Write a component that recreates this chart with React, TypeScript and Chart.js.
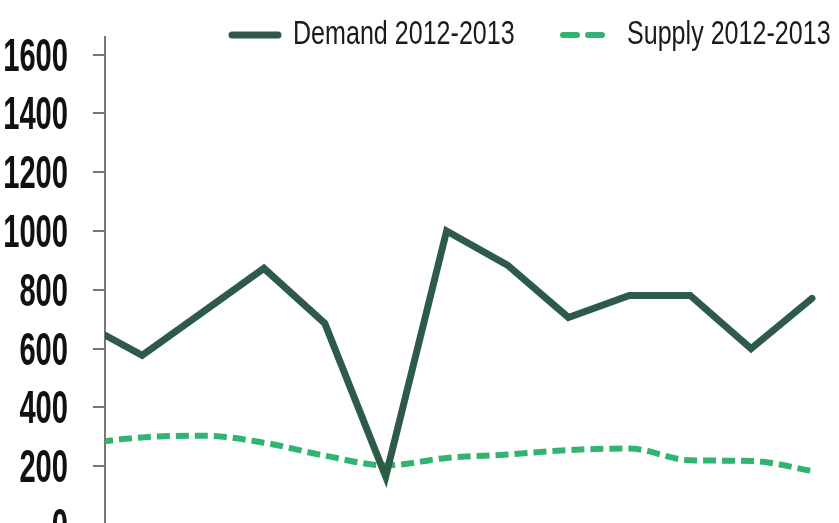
import React, { useEffect, useRef } from "react";
import { Chart, registerables } from "chart.js";

Chart.register(...registerables);

const periods = [0, 1, 2, 3, 4, 5, 6, 7, 8, 9, 10, 11, 12];
const demand = [690, 577, 725, 873, 686, 165, 1000, 884, 706, 781, 781, 600, 771];
const supply = [275, 298, 304, 280, 236, 203, 228, 240, 255, 260, 220, 218, 184];
const yTicks = [0, 200, 400, 600, 800, 1000, 1200, 1400, 1600];
const seriesNames = ["Demand 2012-2013", "Supply 2012-2013"];

const DEMAND_COLOR = "#2e5b48";
const SUPPLY_COLOR = "#30b46f";
const FONT = "'Liberation Sans', Arial, sans-serif";

// Condensed text: draw with a horizontal squeeze to imitate a narrow typeface
function drawCondensed(ctx: any, text: string, x: number, y: number, sx: number, align: "left" | "right") {
  ctx.save();
  ctx.translate(x, y);
  ctx.scale(sx, 1);
  ctx.textAlign = align;
  ctx.textBaseline = "alphabetic";
  ctx.fillText(text, 0, 0);
  ctx.restore();
}

const labelsPlugin = {
  id: "condensedLabels",
  afterDraw(chart: any) {
    const ctx = chart.ctx;
    const yScale = chart.scales.y;
    // y tick labels
    ctx.save();
    ctx.font = `bold 47px ${FONT}`;
    ctx.fillStyle = "#111";
    yTicks.forEach((v) => {
      const py = yScale.getPixelForValue(v);
      drawCondensed(ctx, String(v), 68, py + 16, 0.62, "right");
    });
    ctx.restore();

    // legend
    ctx.save();
    ctx.font = `33px ${FONT}`;
    ctx.fillStyle = "#1a1a1a";
    drawCondensed(ctx, seriesNames[0], 293, 44, 0.76, "left");
    drawCondensed(ctx, seriesNames[1], 627, 44, 0.76, "left");
    ctx.lineWidth = 7;
    ctx.lineCap = "round";
    ctx.strokeStyle = DEMAND_COLOR;
    ctx.beginPath();
    ctx.moveTo(232, 35);
    ctx.lineTo(278, 35);
    ctx.stroke();
    ctx.strokeStyle = SUPPLY_COLOR;
    ctx.lineWidth = 6;
    ctx.setLineDash([14, 11]);
    ctx.beginPath();
    ctx.moveTo(563, 35);
    ctx.lineTo(602, 35);
    ctx.stroke();
    ctx.restore();
  },
};

export default function App() {
  const ref = useRef<HTMLCanvasElement | null>(null);

  useEffect(() => {
    if (!ref.current) return;
    const chart = new Chart(ref.current, {
      type: "line",
      data: {
        datasets: [
          {
            label: seriesNames[0],
            data: periods.map((p, i) => ({ x: p, y: demand[i] })),
            borderColor: DEMAND_COLOR,
            backgroundColor: DEMAND_COLOR,
            borderWidth: 7,
            borderCapStyle: "round",
            borderJoinStyle: "miter",
            pointRadius: 0,
            tension: 0,
          },
          {
            label: seriesNames[1],
            data: periods.map((p, i) => ({ x: p, y: supply[i] })),
            borderColor: SUPPLY_COLOR,
            backgroundColor: SUPPLY_COLOR,
            borderWidth: 6,
            borderDash: [13, 6],
            borderCapStyle: "butt",
            pointRadius: 0,
            cubicInterpolationMode: "monotone",
          },
        ],
      },
      plugins: [labelsPlugin],
      options: {
        responsive: false,
        animation: false,
        layout: { padding: { top: 37, right: 10, bottom: 35, left: 0 } },
        plugins: {
          tooltip: { enabled: false },
          legend: { display: false },
        },
        scales: {
          x: {
            type: "linear",
            display: false,
            min: 0.39,
            max: 12.28,
          },
          y: {
            min: 0,
            max: 1660,
            afterBuildTicks: (scale: any) => {
              scale.ticks = yTicks.map((v) => ({ value: v }));
            },
            afterFit: (scale: any) => {
              scale.width = 105;
            },
            ticks: { display: false },
            grid: {
              drawOnChartArea: false,
              drawTicks: true,
              tickLength: 12,
              color: "#777",
              lineWidth: 2,
            },
            border: { display: true, color: "#777", width: 2 },
          },
        },
      },
    });
    return () => chart.destroy();
  }, []);

  return (
    <div style={{ position: "absolute", left: 0, top: 0, width: 839, height: 560, background: "#fff" }}>
      <canvas ref={ref} width={839} height={560} style={{ display: "block" }} />
    </div>
  );
}
